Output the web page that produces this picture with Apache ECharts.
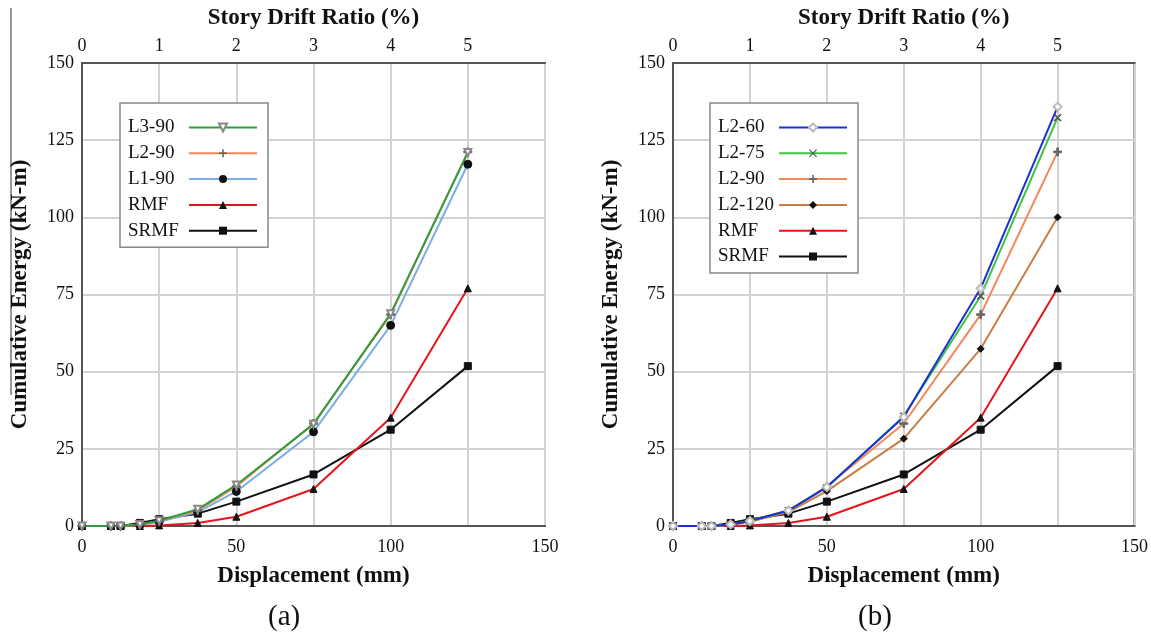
<!DOCTYPE html>
<html>
<head>
<meta charset="utf-8">
<script src="https://cdn.jsdelivr.net/npm/echarts@6/dist/echarts.min.js"></script>
<style>html,body{margin:0;padding:0;background:#fff}#c{width:1151px;height:640px}</style>
</head>
<body>
<div id="c"></div>
<script>
// ---- data ----
const displacement = [0, 9.375, 12.5, 18.75, 25, 37.5, 50, 75, 100, 125];
const driftTicks = [0, 1, 2, 3, 4, 5, 6];
const SRMF   = [0, 0, 0, 1.0, 2.2, 4.0, 7.9, 16.7, 31.2, 51.8];
const RMF    = [0, 0, 0, 0, 0.2, 1.0, 3.0, 12.0, 35.1, 77.0];
const L1_90  = [0, 0, 0, 0.3, 1.4, 4.5, 11.2, 30.5, 65.0, 117.2];
const L2_90  = [0, 0, 0, 0.5, 1.6, 5.0, 12.8, 33.2, 68.5, 121.2];
const L3_90  = [0, 0, 0, 0.5, 1.7, 5.4, 13.3, 33.0, 68.8, 121.0];
const L2_60  = [0, 0, 0, 0.5, 1.6, 5.0, 12.6, 35.3, 77.0, 135.8];
const L2_75  = [0, 0, 0, 0.5, 1.6, 5.0, 12.5, 35.6, 74.5, 132.3];
const L2_120 = [0, 0, 0, 0.4, 1.4, 4.5, 11.3, 28.3, 57.4, 100.0];
const legendA = ['L3-90', 'L2-90', 'L1-90', 'RMF', 'SRMF'];
const legendB = ['L2-60', 'L2-75', 'L2-90', 'L2-120', 'RMF', 'SRMF'];

const FONT = 'Liberation Serif';
const PLUS = 'path://M4,0H6V4H10V6H6V10H4V6H0V4H4Z';
const CROSS = 'path://M1,0L5,4L9,0L10,1L6,5L10,9L9,10L5,6L1,10L0,9L4,5L0,1Z';

function pts(vals) { return displacement.map((x, i) => [x, vals[i]]); }
function ser(name, vals, color, symbol, symColor, size, panel, width, extra) {
  const s = {
    name: name, type: 'line', data: pts(vals),
    xAxisIndex: panel * 2, yAxisIndex: panel,
    symbol: symbol, symbolSize: size, showSymbol: true,
    lineStyle: { color: color, width: width || 2 },
    itemStyle: { color: symColor, borderColor: symColor },
    color: color, animation: false, z: 3
  };
  return Object.assign(s, extra || {});
}

const nameStyle = { fontFamily: FONT, fontWeight: 'bold', fontSize: 23, color: '#111' };
function xBottom(grid) {
  return {
    type: 'value', gridIndex: grid, position: 'bottom', min: 0, max: 150, interval: 50,
    name: 'Displacement (mm)', nameLocation: 'middle', nameGap: 39,
    nameTextStyle: nameStyle,
    axisLine: { show: true, lineStyle: { color: '#555', width: 2 } },
    axisTick: { show: false }, splitLine: { show: false },
    axisLabel: { fontFamily: FONT, fontSize: 18, color: '#111', margin: 12 }
  };
}
function xTop(grid) {
  return {
    type: 'value', gridIndex: grid, position: 'top', min: 0, max: 6, interval: 1,
    name: 'Story Drift Ratio (%)', nameLocation: 'middle', nameGap: 33,
    nameTextStyle: nameStyle,
    axisLine: { show: true, lineStyle: { color: '#555', width: 2 } },
    axisTick: { show: false },
    splitLine: { show: true, lineStyle: { color: '#d2d2d2', width: 2 } },
    axisLabel: { fontFamily: FONT, fontSize: 18, color: '#111', margin: 8,
      formatter: v => (driftTicks.indexOf(v) >= 0 && v < 6 ? String(v) : '') }
  };
}
function yAx(grid) {
  return {
    type: 'value', gridIndex: grid, min: 0, max: 150, interval: 25,
    name: 'Cumulative Energy (kN-m)', nameLocation: 'middle', nameGap: 50, nameRotate: 90,
    nameTextStyle: nameStyle,
    axisLine: { show: true, lineStyle: { color: '#555', width: 2 } },
    axisTick: { show: false },
    splitLine: { show: true, lineStyle: { color: '#d2d2d2', width: 2 } },
    axisLabel: { fontFamily: FONT, fontSize: 18, color: '#111', margin: 8 }
  };
}
function legend(left, top, data) {
  return {
    left: left, top: top, orient: 'vertical', data: data, align: 'right',
    itemWidth: 68, itemHeight: 10, itemGap: 6.8,
    padding: [15, 10, 7, 8],
    backgroundColor: '#fff', borderColor: '#888', borderWidth: 1.5,
    formatter: n => '{t|' + n + '}',
    textStyle: { fontFamily: FONT, fontSize: 19, color: '#111',
      rich: { t: { width: 56, align: 'left', fontFamily: FONT, fontSize: 19, color: '#111' } } },
    selectedMode: false
  };
}

const C = {
  green3: '#2f9e3f', green75: '#3fc43f', blue60: '#1e2fd6', blue1: '#7aaee4',
  orange: '#f4875a', brown: '#c77f47', red: '#e8141c', black: '#111'
};

const series = [
  // panel a
  ser('SRMF', SRMF, C.black, 'rect', '#111', 7, 0, 2),
  ser('RMF', RMF, C.red, 'triangle', '#111', 7, 0, 2),
  ser('L1-90', L1_90, C.blue1, 'circle', '#111', 8, 0, 2),
  ser('L2-90', L2_90, C.orange, PLUS, '#666', 8, 0, 2),
  ser('L3-90', L3_90, C.green3, 'emptyTriangle', '#888', 7, 0, 2, { symbolRotate: 180 }),
  // panel b
  ser('SRMF', SRMF, C.black, 'rect', '#111', 7, 1, 2),
  ser('RMF', RMF, C.red, 'triangle', '#111', 7, 1, 2),
  ser('L2-120', L2_120, C.brown, 'diamond', '#111', 7, 1, 2),
  ser('L2-90', L2_90, C.orange, PLUS, '#666', 8, 1, 2),
  ser('L2-75', L2_75, C.green75, CROSS, '#555', 7, 1, 2),
  ser('L2-60', L2_60, C.blue60, 'emptyDiamond', '#bbb', 8, 1, 2)
];

const chart = echarts.init(document.getElementById('c'), null, { renderer: 'canvas' });
chart.setOption({
  backgroundColor: '#fff',
  animation: false,
  grid: [
    { left: 82, top: 63, width: 463, height: 463, show: true, borderColor: '#555', borderWidth: 2, backgroundColor: 'transparent' },
    { left: 673, top: 63, width: 462, height: 463, show: true, borderColor: '#555', borderWidth: 2, backgroundColor: 'transparent' }
  ],
  xAxis: [xBottom(0), xTop(0), xBottom(1), xTop(1)],
  yAxis: [yAx(0), yAx(1)],
  legend: [legend(120, 103, legendA), legend(710, 103, legendB)],
  series: series,
  graphic: [
    { type: 'text', left: 268, top: 603, style: { text: '(a)', font: '29px "Liberation Serif"', fill: '#111' } },
    { type: 'text', left: 858, top: 603, style: { text: '(b)', font: '29px "Liberation Serif"', fill: '#111' } },
    { type: 'line', shape: { x1: 11, y1: 8, x2: 11, y2: 395 }, style: { stroke: '#333', lineWidth: 1 } }
  ]
});
</script>
</body>
</html>
